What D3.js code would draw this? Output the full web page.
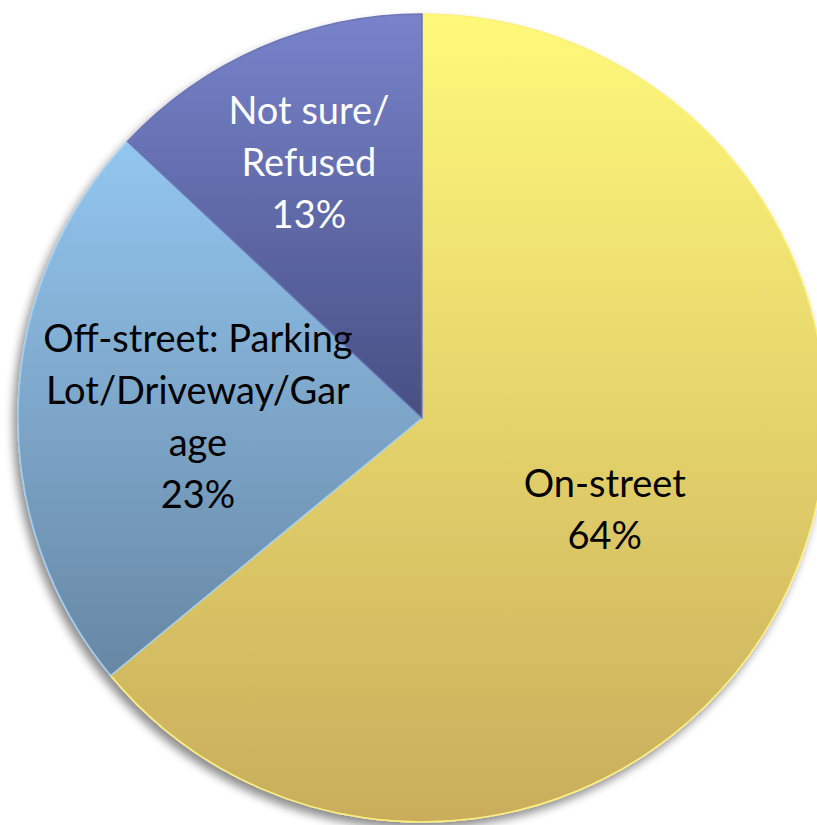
<!DOCTYPE html>
<html>
<head>
<meta charset="utf-8">
<script src="https://cdn.jsdelivr.net/npm/d3@7"></script>
<style>
  html, body { margin: 0; padding: 0; background: #fff; overflow: hidden; }
  text { font-family: Lato, "Open Sans", sans-serif; }
</style>
</head>
<body>
<div id="chart"></div>
<script>
// data
var categories = ["On-street", "Off-street: Parking Lot/Driveway/Garage", "Not sure/Refused"];
var shares = [64, 23, 13];
var labelLines = [
  ["On-street", "64%"],
  ["Off-street: Parking", "Lot/Driveway/Gar", "age", "23%"],
  ["Not sure/", "Refused", "13%"]
];
var topColors = ["#fff97a", "#93c6ef", "#7883cb"];
var bottomColors = ["#c9ad5c", "#6787a4", "#474f83"];
var edgeColors = ["#fdf07d", "#9fcdf3", "#6b74b6"];
var textColors = ["#000", "#000", "#fff"];

var width = 817, height = 825;
var cx = 422, cy = 418, radius = 404;

var svg = d3.select("#chart").append("svg")
  .attr("width", width).attr("height", height);

var defs = svg.append("defs");

var shadow = defs.append("filter").attr("id", "shadow")
  .attr("x", "-10%").attr("y", "-10%").attr("width", "120%").attr("height", "120%");
shadow.append("feGaussianBlur").attr("in", "SourceAlpha").attr("stdDeviation", 5);
shadow.append("feOffset").attr("dx", -4).attr("dy", 6).attr("result", "off");
shadow.append("feComponentTransfer").append("feFuncA").attr("type", "linear").attr("slope", 0.45);
var merge = shadow.append("feMerge");
merge.append("feMergeNode");
merge.append("feMergeNode").attr("in", "SourceGraphic");

var pie = d3.pie().sort(null).value(function(d) { return d; });
var arcs = pie(shares);

var arc = d3.arc().innerRadius(0).outerRadius(radius);

// gradient per slice, across the slice's own box
arcs.forEach(function(a, i) {
  var b = sliceBox(a);
  var g = defs.append("linearGradient").attr("id", "grad" + i)
    .attr("gradientUnits", "userSpaceOnUse")
    .attr("x1", 0).attr("x2", 0).attr("y1", b[0]).attr("y2", b[1]);
  g.append("stop").attr("offset", "0%").attr("stop-color", topColors[i]);
  g.append("stop").attr("offset", "100%").attr("stop-color", bottomColors[i]);
});

function sliceBox(a) {
  var ys = [0];
  var n = 60;
  for (var k = 0; k <= n; k++) {
    var t = a.startAngle + (a.endAngle - a.startAngle) * k / n;
    ys.push(-Math.cos(t) * radius);
  }
  return [d3.min(ys), d3.max(ys)];
}

var g = svg.append("g").attr("transform", "translate(" + cx + "," + cy + ")");

var slices = g.append("g").attr("filter", "url(#shadow)");
slices.selectAll("path").data(arcs).enter().append("path")
  .attr("d", arc)
  .attr("fill", function(d, i) { return "url(#grad" + i + ")"; })
  .attr("stroke", function(d, i) { return edgeColors[i]; })
  .attr("stroke-width", 1.5)
  .attr("stroke-linejoin", "round");

// labels
var labelRadius = [0.5, 0.555, 0.705];
var lineH = 52;
var labels = g.selectAll("g.lbl").data(arcs).enter().append("g").attr("class", "lbl")
  .attr("transform", function(d, i) {
    var la = d3.arc().innerRadius(radius * labelRadius[i]).outerRadius(radius * labelRadius[i]);
    var c = la.centroid(d);
    return "translate(" + c[0] + "," + (c[1] + 4) + ")";
  });

labels.each(function(d, i) {
  var lines = labelLines[i];
  var sel = d3.select(this);
  lines.forEach(function(l, j) {
    sel.append("text")
      .attr("text-anchor", "middle")
      .attr("dominant-baseline", "central")
      .attr("y", (j - (lines.length - 1) / 2) * lineH)
      .attr("font-size", 38)
      .attr("fill", textColors[i])
      .text(l);
  });
});
</script>
</body>
</html>
